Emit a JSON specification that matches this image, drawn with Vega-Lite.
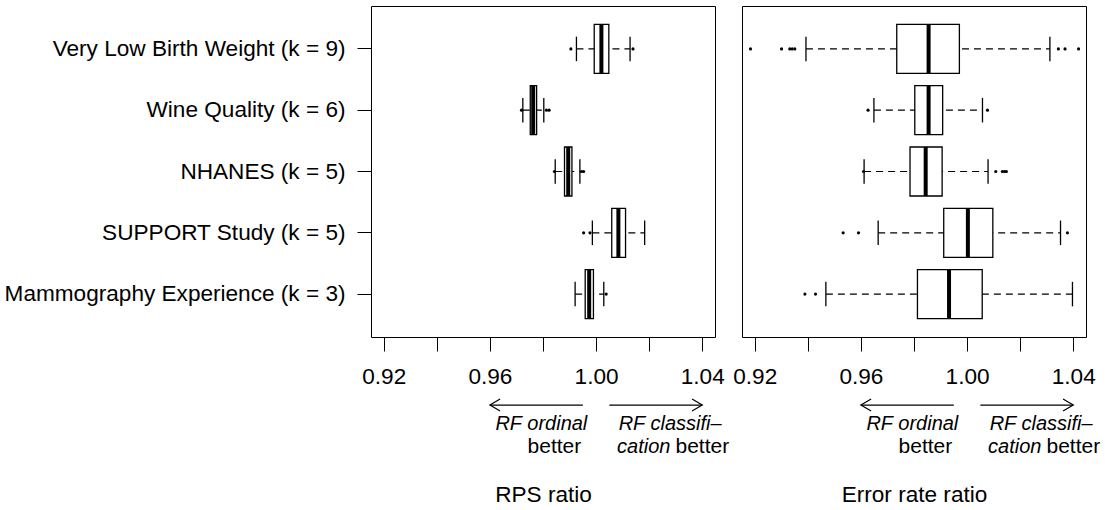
{
  "$schema": "https://vega.github.io/schema/vega-lite/v6.json",
  "background": "white",
  "padding": {"left": 3, "top": 5, "right": 5, "bottom": 5},
  "spacing": 2,
  "config": {
    "font": "Liberation Sans",
    "view": {"stroke": "black", "strokeWidth": 1},
    "axis": {"domain": false, "grid": false, "tickColor": "black", "tickWidth": 1, "labelColor": "black", "labelFont": "Liberation Sans", "titleFont": "Liberation Sans", "titleFontWeight": "normal", "titleColor": "black"},
    "axisX": {"tickSize": 14, "labelPadding": 14, "labelFontSize": 22.6, "titleFontSize": 22.6, "titlePadding": 96, "labelFlush": false, "labelOverlap": false},
    "axisY": {"tickSize": 14, "labelPadding": 12, "labelFontSize": 22.6, "labelLimit": 0},
    "text": {"font": "Liberation Sans", "color": "black"}
  },
  "datasets": {
    "boxes": [
      {"panel": "RPS", "dataset": "Very Low Birth Weight (k = 9)", "lo": 0.9926, "q1": 0.9993, "med": 1.0020, "q3": 1.0048, "hi": 1.0128},
      {"panel": "RPS", "dataset": "Wine Quality (k = 6)", "lo": 0.9724, "q1": 0.9752, "med": 0.9763, "q3": 0.9776, "hi": 0.9803},
      {"panel": "RPS", "dataset": "NHANES (k = 5)", "lo": 0.9846, "q1": 0.9881, "med": 0.9895, "q3": 0.9909, "hi": 0.9939},
      {"panel": "RPS", "dataset": "SUPPORT Study (k = 5)", "lo": 0.9986, "q1": 1.0059, "med": 1.0084, "q3": 1.0111, "hi": 1.0183},
      {"panel": "RPS", "dataset": "Mammography Experience (k = 3)", "lo": 0.9921, "q1": 0.9959, "med": 0.9974, "q3": 0.9990, "hi": 1.0029},
      {"panel": "Error", "dataset": "Very Low Birth Weight (k = 9)", "lo": 0.9393, "q1": 0.9735, "med": 0.9855, "q3": 0.9971, "hi": 1.0312},
      {"panel": "Error", "dataset": "Wine Quality (k = 6)", "lo": 0.9649, "q1": 0.9803, "med": 0.9855, "q3": 0.9908, "hi": 1.0058},
      {"panel": "Error", "dataset": "NHANES (k = 5)", "lo": 0.9612, "q1": 0.9785, "med": 0.9844, "q3": 0.9906, "hi": 1.0079},
      {"panel": "Error", "dataset": "SUPPORT Study (k = 5)", "lo": 0.9665, "q1": 0.9912, "med": 1.0003, "q3": 1.0097, "hi": 1.0352},
      {"panel": "Error", "dataset": "Mammography Experience (k = 3)", "lo": 0.9468, "q1": 0.9813, "med": 0.9932, "q3": 1.0057, "hi": 1.0397}
    ],
    "outliers": [
      {"panel": "RPS", "dataset": "Very Low Birth Weight (k = 9)", "value": 0.9905},
      {"panel": "RPS", "dataset": "Very Low Birth Weight (k = 9)", "value": 1.0139},
      {"panel": "RPS", "dataset": "Wine Quality (k = 6)", "value": 0.9719},
      {"panel": "RPS", "dataset": "Wine Quality (k = 6)", "value": 0.9813},
      {"panel": "RPS", "dataset": "Wine Quality (k = 6)", "value": 0.9823},
      {"panel": "RPS", "dataset": "NHANES (k = 5)", "value": 0.9843},
      {"panel": "RPS", "dataset": "NHANES (k = 5)", "value": 0.9945},
      {"panel": "RPS", "dataset": "NHANES (k = 5)", "value": 0.9953},
      {"panel": "RPS", "dataset": "SUPPORT Study (k = 5)", "value": 0.9953},
      {"panel": "RPS", "dataset": "SUPPORT Study (k = 5)", "value": 0.9977},
      {"panel": "RPS", "dataset": "Mammography Experience (k = 3)", "value": 1.0038},
      {"panel": "Error", "dataset": "Very Low Birth Weight (k = 9)", "value": 0.9184},
      {"panel": "Error", "dataset": "Very Low Birth Weight (k = 9)", "value": 0.9301},
      {"panel": "Error", "dataset": "Very Low Birth Weight (k = 9)", "value": 0.9332},
      {"panel": "Error", "dataset": "Very Low Birth Weight (k = 9)", "value": 0.9341},
      {"panel": "Error", "dataset": "Very Low Birth Weight (k = 9)", "value": 0.9351},
      {"panel": "Error", "dataset": "Very Low Birth Weight (k = 9)", "value": 1.0344},
      {"panel": "Error", "dataset": "Very Low Birth Weight (k = 9)", "value": 1.0369},
      {"panel": "Error", "dataset": "Very Low Birth Weight (k = 9)", "value": 1.0420},
      {"panel": "Error", "dataset": "Wine Quality (k = 6)", "value": 0.9627},
      {"panel": "Error", "dataset": "Wine Quality (k = 6)", "value": 1.0077},
      {"panel": "Error", "dataset": "NHANES (k = 5)", "value": 0.9610},
      {"panel": "Error", "dataset": "NHANES (k = 5)", "value": 1.0108},
      {"panel": "Error", "dataset": "NHANES (k = 5)", "value": 1.0133},
      {"panel": "Error", "dataset": "NHANES (k = 5)", "value": 1.0141},
      {"panel": "Error", "dataset": "NHANES (k = 5)", "value": 1.0148},
      {"panel": "Error", "dataset": "SUPPORT Study (k = 5)", "value": 0.9533},
      {"panel": "Error", "dataset": "SUPPORT Study (k = 5)", "value": 0.9591},
      {"panel": "Error", "dataset": "SUPPORT Study (k = 5)", "value": 1.0378},
      {"panel": "Error", "dataset": "Mammography Experience (k = 3)", "value": 0.9389},
      {"panel": "Error", "dataset": "Mammography Experience (k = 3)", "value": 0.9429}
    ],
    "arrows": [
      {"from": 0.995, "to": 0.96, "y": -0.81, "dir": "left"},
      {"from": 1.005, "to": 1.04, "y": -0.81, "dir": "right"}
    ],
    "italicRight": [{"text": "RF ordinal", "x": 0.9967, "y": -1.222}],
    "normalRight": [{"text": "better", "x": 0.9944, "y": -1.587}],
    "italicLeft": [{"text": "RF classifi–", "x": 1.0085, "y": -1.222}, {"text": "cation", "x": 1.0079, "y": -1.587}],
    "normalLeft": [{"text": "better", "x": 1.0299, "y": -1.587}]
  },
  "hconcat": [
    {
      "width": 344,
      "height": 331,
      "layer": [
        {
          "layer": [
            {
              "data": {"name": "boxes"},
              "transform": [{"filter": "datum.panel === 'RPS'"}],
              "mark": {"type": "rule", "color": "black", "strokeWidth": 1.2, "strokeDash": [7, 5]},
              "encoding": {
                "x": {"field": "lo", "type": "quantitative", "title": "RPS ratio", "scale": {"domain": [0.9152, 1.0448], "nice": false, "zero": false}, "axis": {"values": [0.92, 0.94, 0.96, 0.98, 1.0, 1.02, 1.04], "format": ".2f", "labelExpr": "round(datum.value*100) % 4 === 0 ? datum.label : ''"}},
                "x2": {"field": "hi"},
                "y": {"field": "dataset", "type": "nominal", "title": null, "scale": {"domain": ["Very Low Birth Weight (k = 9)", "Wine Quality (k = 6)", "NHANES (k = 5)", "SUPPORT Study (k = 5)", "Mammography Experience (k = 3)"], "paddingInner": 0, "paddingOuter": 0.2}}
              }
            },
            {
              "data": {"name": "boxes"},
              "transform": [{"filter": "datum.panel === 'RPS'"}],
              "mark": {"type": "bar", "fill": "white", "stroke": "black", "strokeWidth": 1.3, "height": {"band": 0.8}},
              "encoding": {
                "x": {"field": "q1", "type": "quantitative", "title": "RPS ratio", "scale": {"domain": [0.9152, 1.0448], "nice": false, "zero": false}},
                "x2": {"field": "q3"},
                "y": {"field": "dataset", "type": "nominal", "title": null}
              }
            },
            {
              "data": {"name": "boxes"},
              "transform": [{"filter": "datum.panel === 'RPS'"}],
              "mark": {"type": "tick", "color": "black", "thickness": 4, "size": 49, "opacity": 1},
              "encoding": {
                "x": {"field": "med", "type": "quantitative", "title": "RPS ratio", "scale": {"domain": [0.9152, 1.0448], "nice": false, "zero": false}},
                "y": {"field": "dataset", "type": "nominal", "title": null}
              }
            },
            {
              "data": {"name": "boxes"},
              "transform": [{"filter": "datum.panel === 'RPS'"}],
              "mark": {"type": "tick", "color": "black", "thickness": 1.3, "size": 24.5, "opacity": 1},
              "encoding": {
                "x": {"field": "lo", "type": "quantitative", "title": "RPS ratio", "scale": {"domain": [0.9152, 1.0448], "nice": false, "zero": false}},
                "y": {"field": "dataset", "type": "nominal", "title": null}
              }
            },
            {
              "data": {"name": "boxes"},
              "transform": [{"filter": "datum.panel === 'RPS'"}],
              "mark": {"type": "tick", "color": "black", "thickness": 1.3, "size": 24.5, "opacity": 1},
              "encoding": {
                "x": {"field": "hi", "type": "quantitative", "title": "RPS ratio", "scale": {"domain": [0.9152, 1.0448], "nice": false, "zero": false}},
                "y": {"field": "dataset", "type": "nominal", "title": null}
              }
            },
            {
              "data": {"name": "outliers"},
              "transform": [{"filter": "datum.panel === 'RPS'"}],
              "mark": {"type": "point", "filled": true, "color": "black", "size": 10, "opacity": 1},
              "encoding": {
                "x": {"field": "value", "type": "quantitative", "title": "RPS ratio", "scale": {"domain": [0.9152, 1.0448], "nice": false, "zero": false}},
                "y": {"field": "dataset", "type": "nominal", "title": null}
              }
            },
            {
              "mark": {"type": "rule", "color": "black", "strokeWidth": 1.2, "strokeDash": [7, 5]},
              "encoding": {
                "x": {"datum": 1, "type": "quantitative", "title": "RPS ratio", "scale": {"domain": [0.9152, 1.0448], "nice": false, "zero": false}}
              }
            }
          ]
        },
        {
          "layer": [
            {
              "data": {"name": "arrows"},
              "mark": {"type": "rule", "color": "black", "strokeWidth": 1.2},
              "encoding": {
                "x": {"field": "from", "type": "quantitative", "title": "RPS ratio", "scale": {"domain": [0.9152, 1.0448], "nice": false, "zero": false}},
                "x2": {"field": "to"},
                "y": {"field": "y", "type": "quantitative", "scale": {"domain": [0.3, 5.7], "nice": false, "zero": false}, "axis": null}
              }
            },
            {
              "data": {"name": "arrows"},
              "mark": {"type": "point", "filled": false, "color": "black", "strokeWidth": 1.2, "size": 144, "opacity": 1},
              "encoding": {
                "x": {"field": "to", "type": "quantitative", "title": "RPS ratio", "scale": {"domain": [0.9152, 1.0448], "nice": false, "zero": false}},
                "y": {"field": "y", "type": "quantitative", "axis": null},
                "shape": {"field": "dir", "type": "nominal", "scale": {"domain": ["left", "right"], "range": ["M1.7,-1L0,0L1.7,1", "M-1.7,-1L0,0L-1.7,1"]}, "legend": null}
              }
            },
            {
              "data": {"name": "italicRight"},
              "mark": {"type": "text", "fontStyle": "italic", "align": "right", "baseline": "alphabetic", "fontSize": 20, "color": "black"},
              "encoding": {
                "x": {"field": "x", "type": "quantitative", "title": "RPS ratio", "scale": {"domain": [0.9152, 1.0448], "nice": false, "zero": false}},
                "y": {"field": "y", "type": "quantitative", "axis": null},
                "text": {"field": "text"}
              }
            },
            {
              "data": {"name": "normalRight"},
              "mark": {"type": "text", "align": "right", "baseline": "alphabetic", "fontSize": 21, "color": "black"},
              "encoding": {
                "x": {"field": "x", "type": "quantitative", "title": "RPS ratio", "scale": {"domain": [0.9152, 1.0448], "nice": false, "zero": false}},
                "y": {"field": "y", "type": "quantitative", "axis": null},
                "text": {"field": "text"}
              }
            },
            {
              "data": {"name": "italicLeft"},
              "mark": {"type": "text", "fontStyle": "italic", "align": "left", "baseline": "alphabetic", "fontSize": 20, "color": "black"},
              "encoding": {
                "x": {"field": "x", "type": "quantitative", "title": "RPS ratio", "scale": {"domain": [0.9152, 1.0448], "nice": false, "zero": false}},
                "y": {"field": "y", "type": "quantitative", "axis": null},
                "text": {"field": "text"}
              }
            },
            {
              "data": {"name": "normalLeft"},
              "mark": {"type": "text", "align": "left", "baseline": "alphabetic", "fontSize": 21, "color": "black"},
              "encoding": {
                "x": {"field": "x", "type": "quantitative", "title": "RPS ratio", "scale": {"domain": [0.9152, 1.0448], "nice": false, "zero": false}},
                "y": {"field": "y", "type": "quantitative", "axis": null},
                "text": {"field": "text"}
              }
            }
          ]
        }
      ],
      "resolve": {"scale": {"y": "independent"}}
    },
    {
      "width": 344,
      "height": 331,
      "layer": [
        {
          "layer": [
            {
              "data": {"name": "boxes"},
              "transform": [{"filter": "datum.panel === 'Error'"}],
              "mark": {"type": "rule", "color": "black", "strokeWidth": 1.2, "strokeDash": [7, 5]},
              "encoding": {
                "x": {"field": "lo", "type": "quantitative", "title": "Error rate ratio", "scale": {"domain": [0.9152, 1.0448], "nice": false, "zero": false}, "axis": {"values": [0.92, 0.94, 0.96, 0.98, 1.0, 1.02, 1.04], "format": ".2f", "labelExpr": "round(datum.value*100) % 4 === 0 ? datum.label : ''"}},
                "x2": {"field": "hi"},
                "y": {"field": "dataset", "type": "nominal", "title": null, "scale": {"domain": ["Very Low Birth Weight (k = 9)", "Wine Quality (k = 6)", "NHANES (k = 5)", "SUPPORT Study (k = 5)", "Mammography Experience (k = 3)"], "paddingInner": 0, "paddingOuter": 0.2}, "axis": null}
              }
            },
            {
              "data": {"name": "boxes"},
              "transform": [{"filter": "datum.panel === 'Error'"}],
              "mark": {"type": "bar", "fill": "white", "stroke": "black", "strokeWidth": 1.3, "height": {"band": 0.8}},
              "encoding": {
                "x": {"field": "q1", "type": "quantitative", "title": "Error rate ratio", "scale": {"domain": [0.9152, 1.0448], "nice": false, "zero": false}},
                "x2": {"field": "q3"},
                "y": {"field": "dataset", "type": "nominal", "title": null, "axis": null}
              }
            },
            {
              "data": {"name": "boxes"},
              "transform": [{"filter": "datum.panel === 'Error'"}],
              "mark": {"type": "tick", "color": "black", "thickness": 4, "size": 49, "opacity": 1},
              "encoding": {
                "x": {"field": "med", "type": "quantitative", "title": "Error rate ratio", "scale": {"domain": [0.9152, 1.0448], "nice": false, "zero": false}},
                "y": {"field": "dataset", "type": "nominal", "title": null, "axis": null}
              }
            },
            {
              "data": {"name": "boxes"},
              "transform": [{"filter": "datum.panel === 'Error'"}],
              "mark": {"type": "tick", "color": "black", "thickness": 1.3, "size": 24.5, "opacity": 1},
              "encoding": {
                "x": {"field": "lo", "type": "quantitative", "title": "Error rate ratio", "scale": {"domain": [0.9152, 1.0448], "nice": false, "zero": false}},
                "y": {"field": "dataset", "type": "nominal", "title": null, "axis": null}
              }
            },
            {
              "data": {"name": "boxes"},
              "transform": [{"filter": "datum.panel === 'Error'"}],
              "mark": {"type": "tick", "color": "black", "thickness": 1.3, "size": 24.5, "opacity": 1},
              "encoding": {
                "x": {"field": "hi", "type": "quantitative", "title": "Error rate ratio", "scale": {"domain": [0.9152, 1.0448], "nice": false, "zero": false}},
                "y": {"field": "dataset", "type": "nominal", "title": null, "axis": null}
              }
            },
            {
              "data": {"name": "outliers"},
              "transform": [{"filter": "datum.panel === 'Error'"}],
              "mark": {"type": "point", "filled": true, "color": "black", "size": 10, "opacity": 1},
              "encoding": {
                "x": {"field": "value", "type": "quantitative", "title": "Error rate ratio", "scale": {"domain": [0.9152, 1.0448], "nice": false, "zero": false}},
                "y": {"field": "dataset", "type": "nominal", "title": null, "axis": null}
              }
            },
            {
              "mark": {"type": "rule", "color": "black", "strokeWidth": 1.2, "strokeDash": [7, 5]},
              "encoding": {
                "x": {"datum": 1, "type": "quantitative", "title": "Error rate ratio", "scale": {"domain": [0.9152, 1.0448], "nice": false, "zero": false}}
              }
            }
          ]
        },
        {
          "layer": [
            {
              "data": {"name": "arrows"},
              "mark": {"type": "rule", "color": "black", "strokeWidth": 1.2},
              "encoding": {
                "x": {"field": "from", "type": "quantitative", "title": "Error rate ratio", "scale": {"domain": [0.9152, 1.0448], "nice": false, "zero": false}},
                "x2": {"field": "to"},
                "y": {"field": "y", "type": "quantitative", "scale": {"domain": [0.3, 5.7], "nice": false, "zero": false}, "axis": null}
              }
            },
            {
              "data": {"name": "arrows"},
              "mark": {"type": "point", "filled": false, "color": "black", "strokeWidth": 1.2, "size": 144, "opacity": 1},
              "encoding": {
                "x": {"field": "to", "type": "quantitative", "title": "Error rate ratio", "scale": {"domain": [0.9152, 1.0448], "nice": false, "zero": false}},
                "y": {"field": "y", "type": "quantitative", "axis": null},
                "shape": {"field": "dir", "type": "nominal", "scale": {"domain": ["left", "right"], "range": ["M1.7,-1L0,0L1.7,1", "M-1.7,-1L0,0L-1.7,1"]}, "legend": null}
              }
            },
            {
              "data": {"name": "italicRight"},
              "mark": {"type": "text", "fontStyle": "italic", "align": "right", "baseline": "alphabetic", "fontSize": 20, "color": "black"},
              "encoding": {
                "x": {"field": "x", "type": "quantitative", "title": "Error rate ratio", "scale": {"domain": [0.9152, 1.0448], "nice": false, "zero": false}},
                "y": {"field": "y", "type": "quantitative", "axis": null},
                "text": {"field": "text"}
              }
            },
            {
              "data": {"name": "normalRight"},
              "mark": {"type": "text", "align": "right", "baseline": "alphabetic", "fontSize": 21, "color": "black"},
              "encoding": {
                "x": {"field": "x", "type": "quantitative", "title": "Error rate ratio", "scale": {"domain": [0.9152, 1.0448], "nice": false, "zero": false}},
                "y": {"field": "y", "type": "quantitative", "axis": null},
                "text": {"field": "text"}
              }
            },
            {
              "data": {"name": "italicLeft"},
              "mark": {"type": "text", "fontStyle": "italic", "align": "left", "baseline": "alphabetic", "fontSize": 20, "color": "black"},
              "encoding": {
                "x": {"field": "x", "type": "quantitative", "title": "Error rate ratio", "scale": {"domain": [0.9152, 1.0448], "nice": false, "zero": false}},
                "y": {"field": "y", "type": "quantitative", "axis": null},
                "text": {"field": "text"}
              }
            },
            {
              "data": {"name": "normalLeft"},
              "mark": {"type": "text", "align": "left", "baseline": "alphabetic", "fontSize": 21, "color": "black"},
              "encoding": {
                "x": {"field": "x", "type": "quantitative", "title": "Error rate ratio", "scale": {"domain": [0.9152, 1.0448], "nice": false, "zero": false}},
                "y": {"field": "y", "type": "quantitative", "axis": null},
                "text": {"field": "text"}
              }
            }
          ]
        }
      ],
      "resolve": {"scale": {"y": "independent"}}
    }
  ]
}
